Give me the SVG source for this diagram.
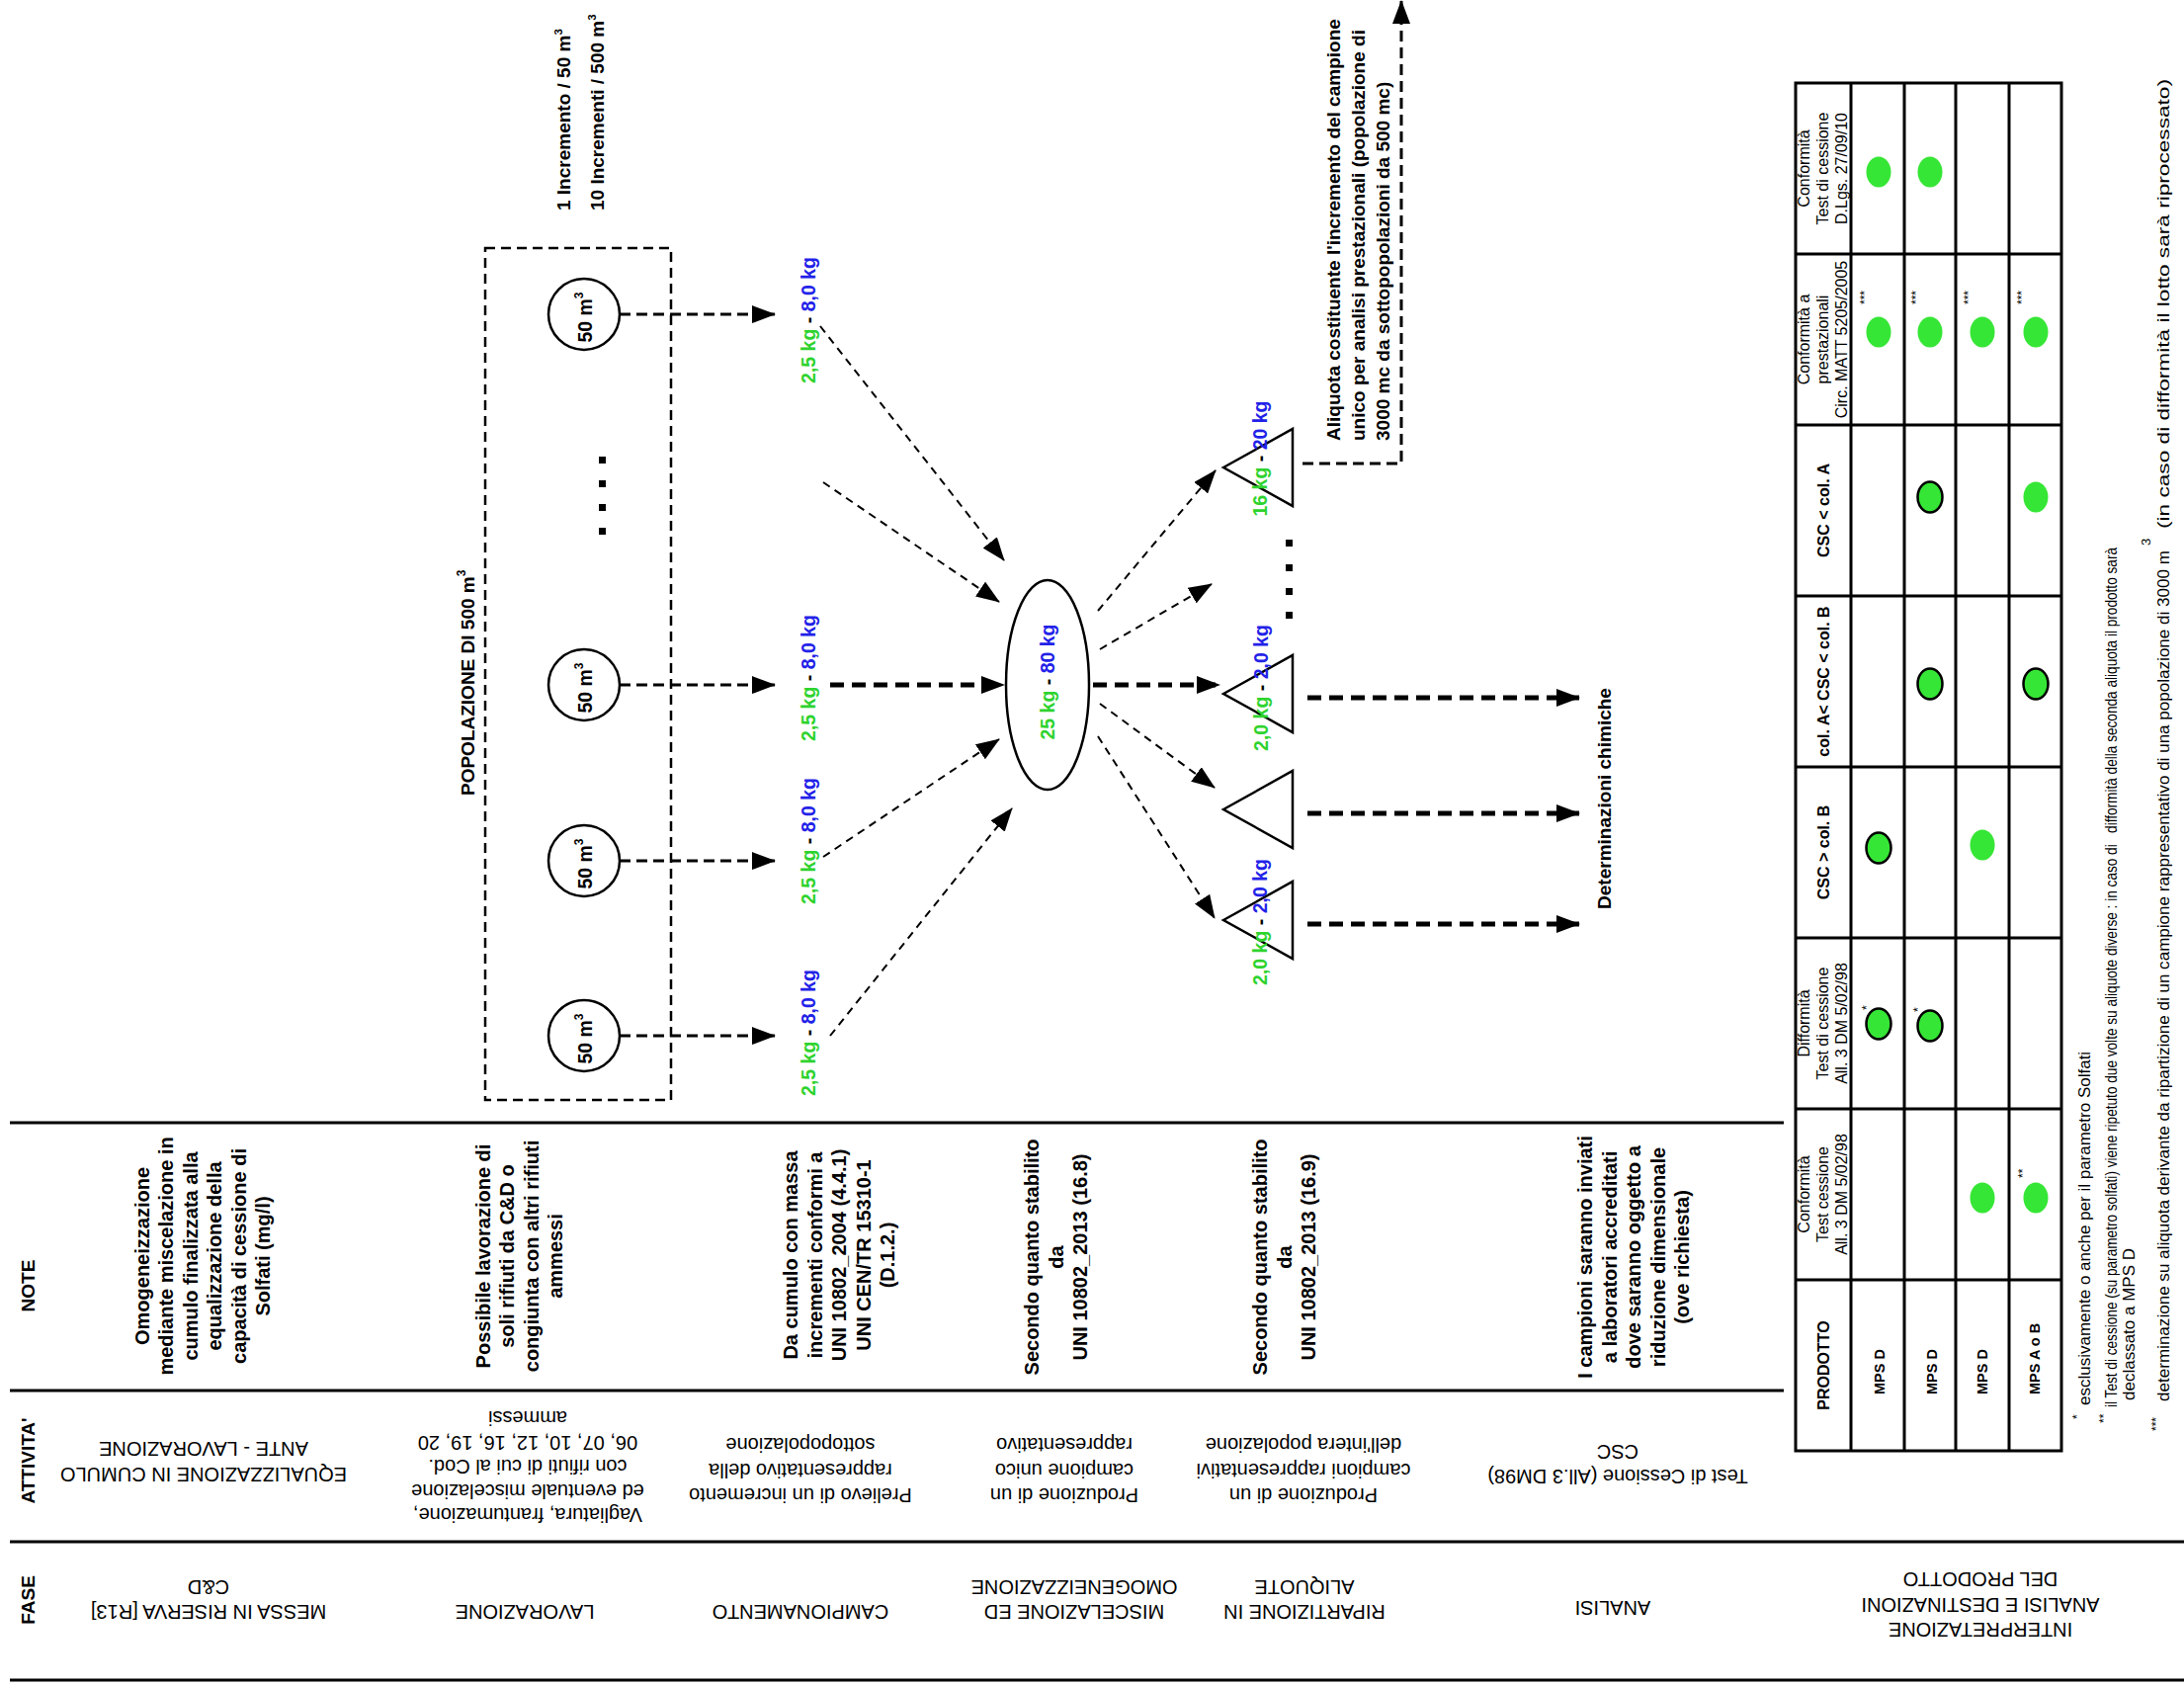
<svg xmlns="http://www.w3.org/2000/svg" width="2210" height="1708" viewBox="0 0 2210 1708">
<defs>
<style>
text{font-family:"Liberation Sans",Arial,Helvetica,sans-serif;fill:#000}
.note{font-size:20px;font-weight:bold;text-anchor:middle}
.ph{font-size:20px;text-anchor:middle}
.hd{font-size:19px;font-weight:bold;text-anchor:middle}
.kg{font-size:19.5px;font-weight:bold;text-anchor:middle}
.lb{font-size:19px;font-weight:bold}
.gr{fill:#2ed32e}
.bu{fill:#2222e8}
.th{font-size:16px;text-anchor:middle}
.thb{font-size:16px;font-weight:bold;text-anchor:middle}
.prod{font-size:14.5px;font-weight:bold}
.fn{font-size:17px}
.ast{font-size:12px}
.rule{stroke:#000;stroke-width:3;fill:none}
.cell{stroke:#000;stroke-width:3;fill:none}
.dA{stroke:#000;stroke-width:3;fill:none;stroke-dasharray:11 6}
.dB{stroke:#000;stroke-width:5;fill:none;stroke-dasharray:14 8}
.dC{stroke:#000;stroke-width:2;fill:none;stroke-dasharray:8 6}
.box{stroke:#000;stroke-width:2.5;fill:none;stroke-dasharray:10 6}
.dot{fill:#36e636}
.dotk{fill:#36e636;stroke:#000;stroke-width:2.5}
.shape{fill:#fff;stroke:#000;stroke-width:2.5}
.sq{fill:#000}
</style>
<marker id="ah" viewBox="0 0 24 18" refX="23" refY="9" markerWidth="24" markerHeight="18" markerUnits="userSpaceOnUse" orient="auto"><path d="M0,0 L24,9 L0,18 z" fill="#000"/></marker>
</defs>
<rect width="2210" height="1708" fill="#fff"/>

<g id="grid">
<path class="rule" d="M10,1136H1805M10,1407H1805M10,1560H2210M10,1700H2210"/>
</g>

<g id="headers">
<text class="hd" transform="translate(35,1301) rotate(-90)">NOTE</text>
<text class="hd" transform="translate(35,1478) rotate(-90)">ATTIVITA'</text>
<text class="hd" transform="translate(35,1619) rotate(-90)">FASE</text>
</g>

<g id="phase-1">
<text class="note" transform="translate(151,1271) rotate(-90)"><tspan x="0" y="0">Omogeneizzazione</tspan><tspan x="0" y="24.4">mediante miscelazione in</tspan><tspan x="0" y="48.8">cumulo finalizzata alla</tspan><tspan x="0" y="73.2">equalizzazione della</tspan><tspan x="0" y="97.6">capacità di cessione di</tspan><tspan x="0" y="122">Solfati (mg/l)</tspan></text>
<text class="ph" transform="translate(206,1485) rotate(180)"><tspan x="0" y="0">EQUALIZZAZIONE IN CUMULO</tspan><tspan x="0" y="26">ANTE - LAVORAZIONE</tspan></text>
<text class="ph" transform="translate(211,1624) rotate(180)"><tspan x="0" y="0">MESSA IN RISERVA [R13]</tspan><tspan x="0" y="25.5">C&amp;D</tspan></text>
</g>

<g id="phase-2">
<text class="note" transform="translate(496,1271) rotate(-90)"><tspan x="0" y="0">Possibile lavorazione di</tspan><tspan x="0" y="24.4">soli rifiuti da C&amp;D o</tspan><tspan x="0" y="48.8">congiunta con altri rifiuti</tspan><tspan x="0" y="73.2">ammessi</tspan></text>
<text class="ph" transform="translate(534,1526) rotate(180)"><tspan x="0" y="0">Vagliatura, frantumazione,</tspan><tspan x="0" y="24.5">ed eventuale miscelazione</tspan><tspan x="0" y="49">con rifiuti di cui al Cod.</tspan><tspan x="0" y="73.5">06, 07, 10, 12, 16, 19, 20</tspan><tspan x="0" y="98">ammessi</tspan></text>
<text class="ph" transform="translate(531,1624) rotate(180)">LAVORAZIONE</text>
</g>

<g id="phase-3">
<text class="note" transform="translate(807,1270) rotate(-90)"><tspan x="0" y="0">Da cumulo con massa</tspan><tspan x="0" y="24.5">incrementi conformi a</tspan><tspan x="0" y="49">UNI 10802_2004 (4.4.1)</tspan><tspan x="0" y="73.5">UNI CEN/TR 15310-1</tspan><tspan x="0" y="98">(D.1.2.)</tspan></text>
<text class="ph" transform="translate(810,1506) rotate(180)"><tspan x="0" y="0">Prelievo di un incremento</tspan><tspan x="0" y="25.5">rappresentativo della</tspan><tspan x="0" y="51">sottopopolazione</tspan></text>
<text class="ph" transform="translate(810,1624) rotate(180)">CAMPIONAMENTO</text>
</g>

<g id="phase-4">
<text class="note" transform="translate(1051,1272) rotate(-90)"><tspan x="0" y="0">Secondo quanto stabilito</tspan><tspan x="0" y="24.5">da</tspan><tspan x="0" y="49">UNI 10802_2013 (16.8)</tspan></text>
<text class="ph" transform="translate(1077,1506) rotate(180)"><tspan x="0" y="0">Produzione di un</tspan><tspan x="0" y="25.5">campione unico</tspan><tspan x="0" y="51">rappresentativo</tspan></text>
<text class="ph" transform="translate(1087,1624) rotate(180)"><tspan x="0" y="0">MISCELAZIONE ED</tspan><tspan x="0" y="25.5">OMOGENEIZZAZIONE</tspan></text>
</g>

<g id="phase-5">
<text class="note" transform="translate(1282,1272) rotate(-90)"><tspan x="0" y="0">Secondo quanto stabilito</tspan><tspan x="0" y="24.5">da</tspan><tspan x="0" y="49">UNI 10802_2013 (16.9)</tspan></text>
<text class="ph" transform="translate(1319,1506) rotate(180)"><tspan x="0" y="0">Produzione di un</tspan><tspan x="0" y="25.5">campioni rappresentativi</tspan><tspan x="0" y="51">dell'intera popolazione</tspan></text>
<text class="ph" transform="translate(1320,1624) rotate(180)"><tspan x="0" y="0">RIPARTIZIONE IN</tspan><tspan x="0" y="25.5">ALIQUOTE</tspan></text>
</g>

<g id="phase-6">
<text class="note" transform="translate(1611,1272) rotate(-90)"><tspan x="0" y="0">I campioni saranno inviati</tspan><tspan x="0" y="24.5">a laboratori accreditati</tspan><tspan x="0" y="49">dove saranno oggetto a</tspan><tspan x="0" y="73.5">riduzione dimensionale</tspan><tspan x="0" y="98">(ove richiesta)</tspan></text>
<text class="ph" transform="translate(1637,1487) rotate(180)"><tspan x="0" y="0">Test di Cessione (All.3 DM98)</tspan><tspan x="0" y="25">CSC</tspan></text>
<text class="ph" transform="translate(1632,1620) rotate(180)">ANALISI</text>
</g>

<g id="phase-7">
<text class="ph" transform="translate(2004,1642) rotate(180)"><tspan x="0" y="0">INTERPRETAZIONE</tspan><tspan x="0" y="25.5">ANALISI E DESTINAZIONI</tspan><tspan x="0" y="51">DEL PRODOTTO</tspan></text>
</g>

<g id="connectors">
<path class="dA" marker-end="url(#ah)" d="M627,318H784"/>
<path class="dA" marker-end="url(#ah)" d="M627,693H784"/>
<path class="dA" marker-end="url(#ah)" d="M627,871H784"/>
<path class="dA" marker-end="url(#ah)" d="M627,1048H784"/>
<path class="dC" marker-end="url(#ah)" d="M830,330L1016,567"/>
<path class="dC" marker-end="url(#ah)" d="M833,488L1011,609"/>
<path class="dB" marker-end="url(#ah)" d="M840,693H1016"/>
<path class="dC" marker-end="url(#ah)" d="M833,867L1011,748"/>
<path class="dC" marker-end="url(#ah)" d="M840,1048L1024,818"/>
<path class="dC" marker-end="url(#ah)" d="M1111,618L1230,476"/>
<path class="dC" marker-end="url(#ah)" d="M1113,657L1226,591"/>
<path class="dB" marker-end="url(#ah)" d="M1106,693H1234"/>
<path class="dC" marker-end="url(#ah)" d="M1113,712L1229,797"/>
<path class="dC" marker-end="url(#ah)" d="M1111,745L1229,929"/>
<path class="dB" marker-end="url(#ah)" d="M1323,706H1598"/>
<path class="dB" marker-end="url(#ah)" d="M1323,823H1598"/>
<path class="dB" marker-end="url(#ah)" d="M1323,935H1598"/>
<path class="dA" marker-end="url(#ah)" d="M1318,469H1418V1"/>
</g>

<g id="population">
<rect class="box" x="491" y="251" width="188" height="862"/>
<text class="lb" transform="translate(480,805) rotate(-90)" font-size="18.5">POPOLAZIONE DI 500 m<tspan dy="-9" font-size="12">3</tspan></text>
<rect class="sq" x="606" y="462" width="7" height="7"/>
<rect class="sq" x="606" y="486" width="7" height="7"/>
<rect class="sq" x="606" y="510" width="7" height="7"/>
<rect class="sq" x="606" y="534" width="7" height="7"/>
</g>

<g id="increment-rule">
<text class="lb" font-size="17.5" transform="translate(577,213) rotate(-90)">1 Incremento / 50 m<tspan dy="-8" font-size="11.5">3</tspan></text>
<text class="lb" font-size="17.5" transform="translate(611,213) rotate(-90)">10 Incrementi / 500 m<tspan dy="-8" font-size="11.5">3</tspan></text>
</g>

<g id="sub-1">
<circle class="shape" cx="591" cy="318" r="36"/>
<text class="kg" transform="translate(599,321) rotate(-90)">50 m<tspan dy="-9" font-size="12">3</tspan></text>
</g>
<g id="sub-2">
<circle class="shape" cx="591" cy="693" r="36"/>
<text class="kg" transform="translate(599,696) rotate(-90)">50 m<tspan dy="-9" font-size="12">3</tspan></text>
</g>
<g id="sub-3">
<circle class="shape" cx="591" cy="871" r="36"/>
<text class="kg" transform="translate(599,874) rotate(-90)">50 m<tspan dy="-9" font-size="12">3</tspan></text>
</g>
<g id="sub-4">
<circle class="shape" cx="591" cy="1048" r="36"/>
<text class="kg" transform="translate(599,1051) rotate(-90)">50 m<tspan dy="-9" font-size="12">3</tspan></text>
</g>

<g id="increment-1"><text class="kg" transform="translate(825,324) rotate(-90)"><tspan class="gr">2,5 kg</tspan> - <tspan class="bu">8,0 kg</tspan></text></g>
<g id="increment-2"><text class="kg" transform="translate(825,686) rotate(-90)"><tspan class="gr">2,5 kg</tspan> - <tspan class="bu">8,0 kg</tspan></text></g>
<g id="increment-3"><text class="kg" transform="translate(825,851) rotate(-90)"><tspan class="gr">2,5 kg</tspan> - <tspan class="bu">8,0 kg</tspan></text></g>
<g id="increment-4"><text class="kg" transform="translate(825,1045) rotate(-90)"><tspan class="gr">2,5 kg</tspan> - <tspan class="bu">8,0 kg</tspan></text></g>

<g id="composite">
<ellipse class="shape" cx="1060" cy="693" rx="42" ry="106"/>
<text class="kg" transform="translate(1067,690) rotate(-90)"><tspan class="gr">25 kg</tspan> - <tspan class="bu">80 kg</tspan></text>
</g>

<g id="aliquot-1">
<polygon class="shape" points="1238,473 1308,434 1308,512"/>
<text class="kg" transform="translate(1282,464) rotate(-90)"><tspan class="gr">16 kg</tspan> - <tspan class="bu">20 kg</tspan></text>
</g>
<g id="aliquot-2">
<polygon class="shape" points="1238,702 1308,663 1308,741"/>
<text class="kg" transform="translate(1283,696) rotate(-90)"><tspan class="gr">2,0 kg</tspan> - <tspan class="bu">2,0 kg</tspan></text>
</g>
<g id="aliquot-3">
<polygon class="shape" points="1238,819 1308,780 1308,858"/>
</g>
<g id="aliquot-4">
<polygon class="shape" points="1238,931 1308,892 1308,970"/>
<text class="kg" transform="translate(1282,933) rotate(-90)"><tspan class="gr">2,0 kg</tspan> - <tspan class="bu">2,0 kg</tspan></text>
</g>
<g id="aliquot-dots">
<rect class="sq" x="1301" y="546" width="7" height="7"/>
<rect class="sq" x="1301" y="571" width="7" height="7"/>
<rect class="sq" x="1301" y="595" width="7" height="7"/>
<rect class="sq" x="1301" y="619" width="7" height="7"/>
</g>

<g id="aliquot-note">
<text class="lb" transform="translate(1356,446) rotate(-90)"><tspan x="0" y="0">Aliquota costituente l'incremento del campione</tspan><tspan x="0" y="25">unico per analisi prestazionali (popolazione di</tspan><tspan x="0" y="50">3000 mc da sottopopolazioni da 500 mc)</tspan></text>
</g>

<g id="chem">
<text class="lb" font-size="20" text-anchor="middle" transform="translate(1630,808) rotate(-90)">Determinazioni chimiche</text>
</g>

<g id="table">
<rect class="cell" x="1817" y="84" width="269" height="1384"/>
<path class="cell" d="M1873,84V1468M1927,84V1468M1979,84V1468M2033,84V1468"/>
<path class="cell" d="M1817,257H2086M1817,430H2086M1817,603H2086M1817,776H2086M1817,949H2086M1817,1122H2086M1817,1295H2086"/>
<text class="th" transform="translate(1831,170.5) rotate(-90)"><tspan x="0" y="0">Conformità</tspan><tspan x="0" y="19">Test di cessione</tspan><tspan x="0" y="38">D.Lgs. 27/09/10</tspan></text>
<text class="th" transform="translate(1831,343.5) rotate(-90)"><tspan x="0" y="0">Conformità a</tspan><tspan x="0" y="19">prestazionali</tspan><tspan x="0" y="38">Circ. MATT 5205/2005</tspan></text>
<text class="thb" transform="translate(1851,516.5) rotate(-90)">CSC &lt; col. A</text>
<text class="thb" transform="translate(1851,689.5) rotate(-90)">col. A&lt; CSC &lt; col. B</text>
<text class="thb" transform="translate(1851,862.5) rotate(-90)">CSC &gt; col. B</text>
<text class="th" transform="translate(1831,1035.5) rotate(-90)"><tspan x="0" y="0">Difformità</tspan><tspan x="0" y="19">Test di cessione</tspan><tspan x="0" y="38">All. 3 DM 5/02/98</tspan></text>
<text class="th" transform="translate(1831,1208.5) rotate(-90)"><tspan x="0" y="0">Conformità</tspan><tspan x="0" y="19">Test cessione</tspan><tspan x="0" y="38">All. 3 DM 5/02/98</tspan></text>
<text class="thb" transform="translate(1851,1381.5) rotate(-90)">PRODOTTO</text>
<text class="prod" transform="translate(1907,1411) rotate(-90)">MPS D</text>
<text class="prod" transform="translate(1960,1411) rotate(-90)">MPS D</text>
<text class="prod" transform="translate(2011,1411) rotate(-90)">MPS D</text>
<text class="prod" transform="translate(2064,1411) rotate(-90)">MPS A o B</text>
<ellipse class="dot" cx="1901" cy="174" rx="12.5" ry="15.5"/>
<ellipse class="dot" cx="1953" cy="174" rx="12.5" ry="15.5"/>
<ellipse class="dot" cx="1901" cy="336" rx="12.5" ry="15.5"/>
<ellipse class="dot" cx="1953" cy="336" rx="12.5" ry="15.5"/>
<ellipse class="dot" cx="2006" cy="336" rx="12.5" ry="15.5"/>
<ellipse class="dot" cx="2060" cy="336" rx="12.5" ry="15.5"/>
<text class="ast" transform="translate(1891,308) rotate(-90)">***</text>
<text class="ast" transform="translate(1943,308) rotate(-90)">***</text>
<text class="ast" transform="translate(1996,308) rotate(-90)">***</text>
<text class="ast" transform="translate(2050,308) rotate(-90)">***</text>
<ellipse class="dotk" cx="1953" cy="503" rx="12.5" ry="15.5"/>
<ellipse class="dot" cx="2060" cy="503" rx="12.5" ry="15.5"/>
<ellipse class="dotk" cx="1953" cy="692" rx="12.5" ry="15.5"/>
<ellipse class="dotk" cx="2060" cy="692" rx="12.5" ry="15.5"/>
<ellipse class="dotk" cx="1901" cy="858" rx="12.5" ry="15.5"/>
<ellipse class="dot" cx="2006" cy="855" rx="12.5" ry="15.5"/>
<ellipse class="dotk" cx="1901" cy="1036" rx="12.5" ry="15.5"/>
<ellipse class="dotk" cx="1953" cy="1038" rx="12.5" ry="15.5"/>
<text class="ast" transform="translate(1893,1022) rotate(-90)">*</text>
<text class="ast" transform="translate(1945,1024) rotate(-90)">*</text>
<ellipse class="dot" cx="2006" cy="1212" rx="12.5" ry="15.5"/>
<ellipse class="dot" cx="2060" cy="1212" rx="12.5" ry="15.5"/>
<text class="ast" transform="translate(2051,1192) rotate(-90)">**</text>
</g>

<g id="footnotes">
<text class="ast" transform="translate(2106,1436) rotate(-90)">*</text>
<text class="fn" transform="translate(2115,1422) rotate(-90)">esclusivamente o anche per il parametro Solfati</text>
<text class="ast" transform="translate(2133,1440) rotate(-90)">**</text>
<text class="fn" transform="translate(2142,1424) rotate(-90)" textLength="870" lengthAdjust="spacingAndGlyphs">il Test di cessione (su parametro solfati) viene ripetuto due volte su aliquote diverse : in caso di &#160;&#160;difformità della seconda aliquota il prodotto sarà</text>
<text class="fn" transform="translate(2160,1417) rotate(-90)">declassato a MPS D</text>
<text class="ast" transform="translate(2186,1448) rotate(-90)">***</text>
<text class="fn" transform="translate(2195,1418) rotate(-90)" textLength="861" lengthAdjust="spacingAndGlyphs">determinazione su aliquota derivante da ripartizione di un campione rappresentativo di una popolazione di 3000 m</text>
<text font-size="13" transform="translate(2176,552) rotate(-90)">3</text>
<text class="fn" transform="translate(2195,535) rotate(-90)" textLength="455" lengthAdjust="spacingAndGlyphs">(in caso di difformità il lotto sarà riprocessato)</text>
</g>
</svg>
